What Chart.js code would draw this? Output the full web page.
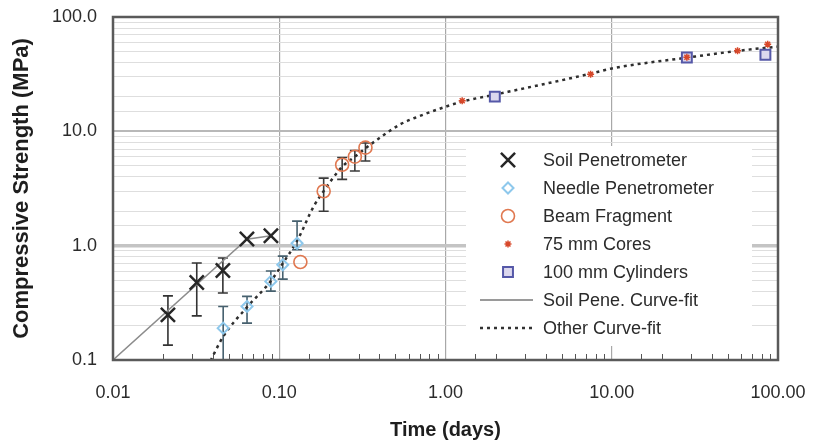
<!DOCTYPE html>
<html>
<head>
<meta charset="utf-8">
<script src="https://cdn.jsdelivr.net/npm/chart.js@4"></script>
<style>
  html, body { margin: 0; padding: 0; background: #fff; }
  #wrap { width: 829px; height: 443px; }
</style>
</head>
<body>
<div id="wrap"><canvas id="chart" width="829" height="443"></canvas></div>
<script>
// data (time in days, strength in MPa)
const soilT = [0.0214, 0.0319, 0.0458, 0.0639, 0.0891];
const soilS = [0.248, 0.476, 0.607, 1.145, 1.22];
const soilLow = [0.135, 0.243, 0.385, null, null];
const soilHigh = [0.364, 0.705, 0.78, null, null];

const needleT = [0.046, 0.064, 0.089, 0.105, 0.128];
const needleS = [0.19, 0.294, 0.487, 0.68, 1.05];
const needleLow = [0.1, 0.21, 0.40, 0.51, 0.92];
const needleHigh = [0.294, 0.36, 0.60, 0.81, 1.64];

const beamT = [0.134, 0.185, 0.239, 0.285, 0.33];
const beamS = [0.72, 2.99, 5.1, 6.0, 7.2];
const beamLow = [null, 2.0, 3.8, 4.5, 5.5];
const beamHigh = [null, 3.9, 5.9, 6.8, 7.9];

const coresT = [1.26, 7.46, 28.3, 57.1, 86.7];
const coresS = [18.5, 31.6, 44.5, 50.6, 57.9];

const cylT = [1.98, 28.3, 84];
const cylS = [20.1, 44.3, 46.7];

const soilFitT = [0.01, 0.0639, 0.0891];
const soilFitS = [0.1, 1.14, 1.22];

const otherFitT = [0.037, 0.046, 0.064, 0.089, 0.105, 0.128, 0.161, 0.185, 0.239, 0.285, 0.33, 0.39, 0.54, 0.68, 1.0, 1.26, 2.0, 7.5, 10, 28, 57, 87, 107];
const otherFitS = [0.087, 0.16, 0.29, 0.49, 0.70, 1.1, 2.2, 3.0, 4.9, 6.0, 7.1, 8.5, 11.6, 13.4, 16.4, 18.2, 21.0, 32.0, 35.5, 44.0, 50.5, 54.0, 55.5];

const xTickLabels = ['0.01', '0.10', '1.00', '10.00', '100.00'];
const yTickLabels = ['0.1', '1.0', '10.0', '100.0'];
const xTickValues = [0.01, 0.1, 1, 10, 100];
const yTickValues = [0.1, 1, 10, 100];

const FONT = "'Liberation Sans', Arial, sans-serif";
const TEXT = '#2b2b2b';

function pts(t, s) {
    return t.map((v, i) => ({ x: v, y: s[i] }));
}

function isDecade(v) {
    const l = Math.log10(v);
    return Math.abs(l - Math.round(l)) < 1e-6;
}

function labelFor(values, labels, v) {
    for (let i = 0; i < values.length; i++) {
        if (Math.abs(values[i] - v) / values[i] < 1e-6) return labels[i];
    }
    return '';
}

const series = [
    { label: 'Soil Penetrometer', style: 'crossRot', color: '#262626', fill: 'transparent', r: 10, w: 2.5 },
    { label: 'Needle Penetrometer', style: 'rectRot', color: '#8ec8ec', fill: 'transparent', r: 5.5, w: 2 },
    { label: 'Beam Fragment', style: 'circle', color: '#e07850', fill: 'transparent', r: 6.5, w: 1.6 },
    { label: '75 mm Cores', style: 'star', color: '#d8482a', fill: 'transparent', r: 3.5, w: 1.5 },
    { label: '100 mm Cylinders', style: 'rect', color: '#5558a8', fill: '#dcd8ee', r: 7, w: 2 }
];

const errorBars = [
    { ds: 0, t: soilT, low: soilLow, high: soilHigh, color: '#333' },
    { ds: 1, t: needleT, low: needleLow, high: needleHigh, color: '#46606e' },
    { ds: 2, t: beamT, low: beamLow, high: beamHigh, color: '#3a3a3a' }
];

const errorBarPlugin = {
    id: 'errorBars',
    beforeDatasetsDraw(chart) {
        const ctx = chart.ctx;
        const xs = chart.scales.x, ys = chart.scales.y;
        const a = chart.chartArea;
        ctx.save();
        ctx.beginPath();
        ctx.rect(a.left, a.top, a.right - a.left, a.bottom - a.top);
        ctx.clip();
        errorBars.forEach(eb => {
            ctx.strokeStyle = eb.color;
            ctx.lineWidth = 1.6;
            eb.t.forEach((t, i) => {
                if (eb.low[i] == null) return;
                const px = xs.getPixelForValue(t);
                const y1 = ys.getPixelForValue(eb.low[i]);
                const y2 = ys.getPixelForValue(eb.high[i]);
                ctx.beginPath();
                ctx.moveTo(px, y1); ctx.lineTo(px, y2);
                ctx.moveTo(px - 5, y1); ctx.lineTo(px + 5, y1);
                ctx.moveTo(px - 5, y2); ctx.lineTo(px + 5, y2);
                ctx.stroke();
            });
        });
        ctx.restore();
    }
};

function drawMarker(ctx, s, x, y) {
    ctx.save();
    ctx.strokeStyle = s.color;
    ctx.fillStyle = s.fill;
    ctx.lineWidth = s.w;
    ctx.beginPath();
    const r = s.r;
    if (s.style === 'crossRot') {
        const d = r * Math.SQRT1_2;
        ctx.moveTo(x - d, y - d); ctx.lineTo(x + d, y + d);
        ctx.moveTo(x - d, y + d); ctx.lineTo(x + d, y - d);
        ctx.stroke();
    } else if (s.style === 'rectRot') {
        ctx.moveTo(x, y - r); ctx.lineTo(x + r, y); ctx.lineTo(x, y + r); ctx.lineTo(x - r, y); ctx.closePath();
        ctx.stroke();
    } else if (s.style === 'circle') {
        ctx.arc(x, y, r, 0, Math.PI * 2);
        ctx.stroke();
    } else if (s.style === 'star') {
        const d = r * Math.SQRT1_2;
        ctx.moveTo(x - r, y); ctx.lineTo(x + r, y);
        ctx.moveTo(x, y - r); ctx.lineTo(x, y + r);
        ctx.moveTo(x - d, y - d); ctx.lineTo(x + d, y + d);
        ctx.moveTo(x - d, y + d); ctx.lineTo(x + d, y - d);
        ctx.stroke();
    } else if (s.style === 'rect') {
        const h = r * Math.SQRT1_2;
        ctx.rect(x - h, y - h, 2 * h, 2 * h);
        ctx.fill();
        ctx.stroke();
    }
    ctx.restore();
}

const framePlugin = {
    id: 'frame',
    afterDraw(chart) {
        const ctx = chart.ctx;
        const a = chart.chartArea;
        const xs = chart.scales.x;
        ctx.save();
        // minor ticks along the bottom axis
        ctx.strokeStyle = '#555';
        ctx.lineWidth = 1;
        xs.ticks.forEach(tk => {
            if (isDecade(tk.value)) return;
            const px = Math.round(xs.getPixelForValue(tk.value)) + 0.5;
            ctx.beginPath();
            ctx.moveTo(px, a.bottom); ctx.lineTo(px, a.bottom - 6);
            ctx.stroke();
        });
        // plot frame
        ctx.strokeStyle = '#5a5a5a';
        ctx.lineWidth = 2.5;
        ctx.strokeRect(a.left, a.top, a.right - a.left, a.bottom - a.top);

        // legend box inside the plot
        ctx.fillStyle = '#fff';
        ctx.fillRect(466, 146, 286, 200);
        const mx = 508, tx = 543, y0 = 160, dy = 28;
        ctx.font = '18px ' + FONT;
        ctx.fillStyle = TEXT;
        ctx.textBaseline = 'middle';
        series.forEach((s, i) => {
            drawMarker(ctx, s, mx, y0 + i * dy);
            ctx.fillStyle = TEXT;
            ctx.fillText(s.label, tx, y0 + i * dy + 1);
        });
        let y = y0 + 5 * dy;
        ctx.strokeStyle = '#9a9a9a';
        ctx.lineWidth = 2;
        ctx.beginPath(); ctx.moveTo(480, y); ctx.lineTo(533, y); ctx.stroke();
        ctx.fillText('Soil Pene. Curve-fit', tx, y + 1);
        y += dy;
        ctx.strokeStyle = '#333';
        ctx.lineWidth = 2.5;
        ctx.setLineDash([3, 4]);
        ctx.beginPath(); ctx.moveTo(480, y); ctx.lineTo(533, y); ctx.stroke();
        ctx.setLineDash([]);
        ctx.fillText('Other Curve-fit', tx, y + 1);
        ctx.restore();
    }
};

function markerDataset(i, t, s) {
    const st = series[i];
    return {
        label: st.label,
        data: pts(t, s),
        showLine: false,
        pointStyle: st.style,
        pointRadius: st.r,
        pointHoverRadius: st.r,
        pointBorderWidth: st.w,
        borderColor: st.color,
        backgroundColor: st.fill,
        order: 0
    };
}

const ctx = document.getElementById('chart').getContext('2d');
new Chart(ctx, {
    type: 'scatter',
    data: {
        datasets: [
            markerDataset(0, soilT, soilS),
            markerDataset(1, needleT, needleS),
            markerDataset(2, beamT, beamS),
            markerDataset(3, coresT, coresS),
            markerDataset(4, cylT, cylS),
            {
                label: 'Soil Pene. Curve-fit',
                data: pts(soilFitT, soilFitS),
                showLine: true,
                pointRadius: 0,
                borderColor: '#8c8c8c',
                borderWidth: 1.5,
                order: 2
            },
            {
                label: 'Other Curve-fit',
                data: pts(otherFitT, otherFitS),
                showLine: true,
                pointRadius: 0,
                borderColor: '#2e2e2e',
                borderWidth: 2.5,
                borderDash: [3, 4],
                cubicInterpolationMode: 'monotone',
                order: 1
            }
        ]
    },
    options: {
        responsive: false,
        animation: false,
        events: [],
        layout: { padding: { top: 17, right: 51, left: 0, bottom: 0 } },
        plugins: {
            legend: { display: false },
            tooltip: { enabled: false }
        },
        scales: {
            x: {
                type: 'logarithmic',
                min: 0.01,
                max: 100,
                afterFit(scale) {
                    scale.height = 83;
                    scale.paddingLeft = 0;
                    scale.paddingRight = 0;
                },
                border: { display: false },
                grid: {
                    drawTicks: false,
                    color: c => (c.tick && isDecade(c.tick.value)) ? '#a8a8a8' : 'rgba(0,0,0,0)',
                    lineWidth: 1.2
                },
                ticks: {
                    autoSkip: false,
                    maxRotation: 0,
                    padding: 22,
                    color: TEXT,
                    font: { family: FONT, size: 18 },
                    callback: v => labelFor(xTickValues, xTickLabels, v)
                },
                title: {
                    display: true,
                    text: 'Time (days)',
                    color: '#1e1e1e',
                    font: { family: FONT, size: 20, weight: 'bold' },
                    padding: { top: 0, bottom: 1 }
                }
            },
            y: {
                type: 'logarithmic',
                min: 0.1,
                max: 100,
                afterFit(scale) {
                    scale.width = 113;
                    scale.paddingTop = 0;
                    scale.paddingBottom = 0;
                },
                border: { display: false },
                grid: {
                    drawTicks: false,
                    color: c => {
                        if (!c.tick) return 'rgba(0,0,0,0)';
                        const v = c.tick.value;
                        if (Math.abs(v - 1) < 1e-6) return '#c4c4c4';
                        if (isDecade(v)) return '#b8b8b8';
                        return '#dedede';
                    },
                    lineWidth: c => {
                        if (!c.tick) return 1;
                        const v = c.tick.value;
                        if (Math.abs(v - 1) < 1e-6) return 3.5;
                        if (isDecade(v)) return 2;
                        return 1;
                    }
                },
                ticks: {
                    autoSkip: false,
                    padding: 16,
                    color: TEXT,
                    font: { family: FONT, size: 18 },
                    callback: v => labelFor(yTickValues, yTickLabels, v)
                },
                title: {
                    display: true,
                    text: 'Compressive Strength (MPa)',
                    color: '#1e1e1e',
                    font: { family: FONT, size: 22, weight: 'bold' },
                    padding: { top: 9, bottom: 0 }
                }
            }
        }
    },
    plugins: [errorBarPlugin, framePlugin]
});
</script>
</body>
</html>
